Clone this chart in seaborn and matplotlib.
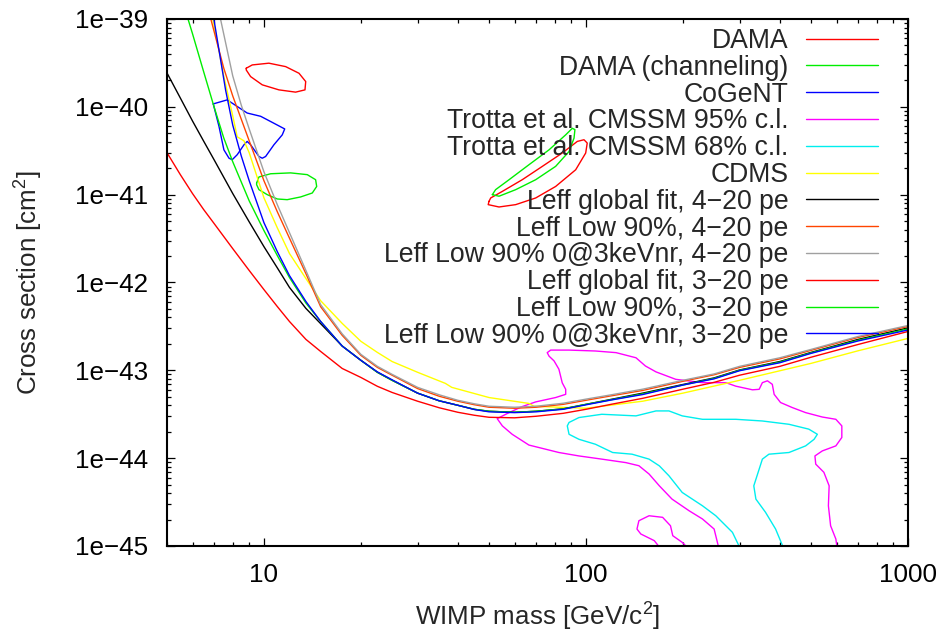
import matplotlib
matplotlib.use("Agg")
import matplotlib.pyplot as plt
import seaborn as sns
import numpy as np

# ---------------- data ----------------
# DAMA (two islands)
dama_lo_mass = [8.81, 9.20, 10.36, 11.68, 12.85, 13.48, 13.41, 12.54, 11.13, 9.88, 9.09, 8.81, 8.81]
dama_lo_sigma = [2.75e-40, 3.0e-40, 3.14e-40, 2.87e-40, 2.41e-40, 1.94e-40, 1.56e-40, 1.47e-40,
                 1.56e-40, 1.78e-40, 2.21e-40, 2.63e-40, 2.75e-40]
dama_hi_mass = [50.0, 49.7, 53.7, 60.5, 69.8, 80.5, 92.9, 99.8, 100.9, 98.6, 94.0, 84.4, 73.2,
                63.4, 55.0, 50.6, 50.0]
dama_hi_sigma = [8.4e-42, 7.7e-42, 7.24e-42, 7.7e-42, 9.17e-42, 1.24e-41, 1.92e-41, 2.98e-41,
                 3.87e-41, 4.22e-41, 4.04e-41, 2.98e-41, 2.1e-41, 1.48e-41, 1.09e-41, 9.17e-42, 8.4e-42]

# DAMA (channeling) (two islands)
chan_lo_mass = [9.49, 9.65, 10.49, 12.10, 13.63, 14.47, 14.58, 14.13, 13.0, 11.81, 11.0, 10.24,
                9.65, 9.49, 9.49]
chan_lo_sigma = [1.36e-41, 1.59e-41, 1.73e-41, 1.77e-41, 1.69e-41, 1.48e-41, 1.24e-41, 1.045e-41,
                 9.42e-42, 8.77e-42, 8.93e-42, 1.0e-41, 1.14e-41, 1.30e-41, 1.36e-41]
chan_hi_mass = [51.2, 52.4, 57.7, 66.5, 76.8, 86.5, 90.7, 92.4, 91.8, 88.6, 80.5, 69.8, 60.5,
                53.7, 51.2]
chan_hi_sigma = [1.0e-41, 1.14e-41, 1.48e-41, 2.19e-41, 3.24e-41, 4.8e-41, 5.7e-41, 5.5e-41,
                 4.4e-41, 3.1e-41, 2.1e-41, 1.48e-41, 1.14e-41, 9.6e-42, 1.0e-41]

# CoGeNT
cogent_mass = [6.96, 7.69, 8.87, 9.77, 10.74, 11.60, 11.40, 10.74, 10.12, 9.88, 9.65, 9.09, 8.87,
               8.67, 8.26, 7.97, 7.79, 7.51, 7.25, 6.96]
cogent_sigma = [1.08e-40, 1.20e-40, 8.5e-41, 7.8e-41, 6.5e-41, 5.6e-41, 4.8e-41, 3.7e-41, 2.72e-41,
                2.6e-41, 2.72e-41, 3.7e-41, 4.04e-41, 3.7e-41, 2.85e-41, 2.5e-41, 2.6e-41, 3.24e-41,
                6.0e-41, 1.08e-40]

# Trotta et al. CMSSM 95% c.l. (main region + small island)
t95_mass = [259, 250, 230, 209, 185, 169, 157, 146, 133, 112,
            95.1, 82.4, 66.5, 59.0, 55.0, 53.0, 57.7, 63.4, 69.8, 80.5,
            86.5, 86.5, 84.4, 82.4, 79.6, 76.8, 75.8, 77.7, 88.6, 107,
            124, 143, 153, 165, 190, 230, 272, 292, 329, 345,
            353, 366, 379, 384, 402, 437, 481, 542, 597, 623,
            623, 597, 542, 514, 517, 548, 569, 566, 575, 597,
            603]
t95_sigma = [9.2e-46, 1.56e-45, 2.03e-45, 2.52e-45, 3.42e-45, 4.84e-45, 6.6e-45, 8.2e-45, 8.9e-45, 9.75e-45,
             1.06e-44, 1.16e-44, 1.41e-44, 1.87e-44, 2.33e-44, 2.82e-44, 3.3e-44, 3.87e-44, 4.37e-44, 4.9e-44,
             5.33e-44, 6.08e-44, 7.2e-44, 1.03e-43, 1.28e-43, 1.45e-43, 1.59e-43, 1.70e-43, 1.70e-43, 1.66e-43,
             1.59e-43, 1.39e-43, 1.12e-43, 9.6e-44, 7.9e-44, 7.24e-44, 7.24e-44, 6.6e-44, 6.0e-44, 6.08e-44,
             7.24e-44, 7.6e-44, 6.93e-44, 5.33e-44, 4.3e-44, 3.77e-44, 3.3e-44, 2.94e-44, 2.77e-44, 2.33e-44,
             1.72e-44, 1.38e-44, 1.21e-44, 1.06e-44, 8.55e-45, 6.9e-45, 4.84e-45, 2.87e-45, 1.70e-45, 1.20e-45,
             9.2e-46]
t95b_mass = [171, 163, 148, 144, 146, 157, 173, 183, 186, 199, 209]
t95b_sigma = [9.2e-46, 1.15e-45, 1.37e-45, 1.56e-45, 1.94e-45, 2.21e-45, 2.12e-45, 1.70e-45,
              1.31e-45, 1.10e-45, 9.2e-46]

# Trotta et al. CMSSM 68% c.l.
t68_mass = [302, 285, 253, 230, 199, 181, 169, 157, 139, 121,
            107, 95.1, 88.6, 87.5, 88.6, 95.1, 112, 143, 165, 181,
            199, 230, 292, 353, 427, 492, 523, 511, 481, 427,
            370, 353, 345, 332, 337, 361, 388, 412]
t68_sigma = [9.2e-46, 1.43e-45, 2.21e-45, 2.87e-45, 4.07e-45, 6.3e-45, 8.17e-45, 9.75e-45, 1.11e-44, 1.16e-44,
             1.44e-44, 1.64e-44, 1.87e-44, 2.33e-44, 2.55e-44, 2.9e-44, 3.16e-44, 3.03e-44, 3.45e-44, 3.45e-44,
             3.03e-44, 2.77e-44, 2.77e-44, 2.65e-44, 2.43e-44, 2.14e-44, 1.87e-44, 1.64e-44, 1.38e-44, 1.16e-44,
             1.11e-44, 9.75e-45, 7.5e-45, 4.84e-45, 3.42e-45, 2.42e-45, 1.56e-45, 9.2e-46]

# CDMS
cdms_mass = [6.94, 7.5, 8.0, 8.26, 8.67, 9.0, 10, 11, 12, 13.5, 15, 17.5, 20, 22.5, 25, 30, 36.6,
             38.3, 50, 66.5, 68.9, 100, 150, 200, 300, 500, 700, 1000]
cdms_sigma = [1.0e-39, 2.25e-40, 7.9e-41, 4.56e-41, 4.1e-41, 3.0e-41, 9.2e-42, 4.2e-42, 2.14e-42,
              1.11e-42, 6.2e-43, 3.42e-43, 2.14e-43, 1.6e-43, 1.26e-43, 9.5e-44, 7.1e-44, 6.4e-44,
              4.9e-44, 4.2e-44, 3.9e-44, 3.7e-44, 4.45e-44, 5.5e-44, 7.7e-44, 1.2e-43, 1.67e-43, 2.31e-43]

# Leff global fit, 4-20 pe
gf4_mass = [5, 5.5, 6, 6.5, 7, 8, 9, 10, 11, 12, 13.5, 15, 17.5, 20, 22.5, 25, 30, 35, 40, 45, 50,
            60, 70, 85, 100, 120, 150, 200, 250, 300, 400, 500, 700, 1000]
gf4_sigma = [2.43e-40, 1.26e-40, 6.9e-41, 4.06e-41, 2.5e-41, 1.03e-41, 4.9e-42, 2.56e-42, 1.47e-42,
             8.8e-43, 5.07e-43, 3.4e-43, 1.89e-43, 1.30e-43, 9.5e-44, 7.7e-44, 5.5e-44, 4.5e-44,
             4.0e-44, 3.6e-44, 3.42e-44, 3.33e-44, 3.42e-44, 3.65e-44, 4.1e-44, 4.68e-44, 5.5e-44,
             6.9e-44, 8.2e-44, 1.01e-43, 1.26e-43, 1.60e-43, 2.25e-43, 3.04e-43]

# Leff Low 90%, 4-20 pe
low4_mass = [6.84, 7.5, 8, 9, 10, 11, 12, 13.5, 15, 17.5, 20, 22.5, 25, 30, 35, 40, 45, 50, 60, 70,
             85, 100, 120, 150, 200, 250, 300, 400, 500, 700, 1000]
low4_sigma = [1.0e-39, 2.77e-40, 1.33e-40, 4.1e-41, 1.44e-41, 6.4e-42, 3.2e-42, 1.26e-42, 5.3e-43,
              2.5e-43, 1.48e-43, 1.08e-43, 8.8e-44, 6.2e-44, 5.07e-44, 4.45e-44, 4.06e-44, 3.8e-44,
              3.7e-44, 3.8e-44, 4.1e-44, 4.56e-44, 5.13e-44, 5.9e-44, 7.5e-44, 8.9e-44, 1.08e-43,
              1.35e-43, 1.69e-43, 2.37e-43, 3.16e-43]

# Leff Low 90% 0@3keVnr, 4-20 pe
zero4_mass = [7.33, 8, 8.5, 9, 10, 11, 12, 13.5, 15, 17.5, 20, 22.5, 25, 30, 35, 40, 45, 50, 60, 70,
              85, 100, 120, 150, 200, 250, 300, 400, 500, 700, 1000]
zero4_sigma = [1.0e-39, 2.25e-40, 1.05e-40, 5.6e-41, 1.82e-41, 7.7e-42, 3.7e-42, 1.37e-42, 5.6e-43,
               2.6e-43, 1.52e-43, 1.11e-43, 9.0e-44, 6.4e-44, 5.27e-44, 4.56e-44, 4.16e-44, 3.9e-44,
               3.8e-44, 3.9e-44, 4.22e-44, 4.7e-44, 5.27e-44, 6.1e-44, 7.7e-44, 9.1e-44, 1.11e-43,
               1.39e-43, 1.73e-43, 2.43e-43, 3.24e-43]

# Leff global fit, 3-20 pe
gf3_mass = [5, 5.5, 6, 6.5, 7, 8, 9, 10, 11, 12, 13.5, 15, 17.5, 20, 22.5, 25, 30, 35, 40, 45, 50,
            60, 70, 85, 100, 120, 150, 200, 250, 300, 400, 500, 700, 1000]
gf3_sigma = [3.0e-41, 1.69e-41, 1.03e-41, 6.76e-42, 4.7e-42, 2.43e-42, 1.37e-42, 8.3e-43, 5.33e-43,
             3.6e-43, 2.25e-43, 1.64e-43, 1.05e-43, 8.3e-44, 6.58e-44, 5.6e-44, 4.45e-44, 3.75e-44,
             3.33e-44, 3.08e-44, 2.92e-44, 2.88e-44, 3.0e-44, 3.24e-44, 3.6e-44, 4.11e-44, 4.8e-44,
             6.1e-44, 7.3e-44, 8.8e-44, 1.11e-43, 1.41e-43, 1.97e-43, 2.77e-43]

# Leff Low 90%, 3-20 pe
low3_mass = [5.81, 6, 6.5, 7, 7.5, 8, 9, 10, 11, 12, 13.5, 15, 17.5, 20, 22.5, 25, 30, 35, 40, 45,
             50, 60, 70, 85, 100, 120, 150, 200, 250, 300, 400, 500, 700, 1000]
low3_sigma = [1.0e-39, 6.8e-40, 2.5e-40, 1.0e-40, 4.44e-41, 2.37e-41, 8.5e-42, 3.9e-42, 2.03e-42,
              1.14e-42, 5.83e-43, 3.6e-43, 1.89e-43, 1.30e-43, 9.5e-44, 7.7e-44, 5.5e-44, 4.5e-44,
              4.0e-44, 3.6e-44, 3.42e-44, 3.33e-44, 3.42e-44, 3.63e-44, 4.1e-44, 4.63e-44, 5.4e-44,
              6.8e-44, 8.1e-44, 1.0e-43, 1.24e-43, 1.58e-43, 2.2e-43, 2.96e-43]

# Leff Low 90% 0@3keVnr, 3-20 pe
zero3_mass = [6.99, 7.6, 8, 8.5, 9, 10, 11, 12, 13.5, 15, 17.5, 20, 22.5, 25, 30, 35, 40, 45, 50, 60,
              70, 85, 100, 120, 150, 200, 250, 300, 400, 500, 700, 1000]
zero3_sigma = [1.0e-39, 1.56e-40, 6.2e-41, 2.77e-41, 1.44e-41, 4.8e-42, 2.25e-42, 1.2e-42, 6.08e-43,
               3.6e-43, 1.89e-43, 1.30e-43, 9.6e-44, 7.8e-44, 5.5e-44, 4.5e-44, 4.0e-44, 3.58e-44,
               3.37e-44, 3.3e-44, 3.37e-44, 3.6e-44, 4.05e-44, 4.6e-44, 5.3e-44, 6.8e-44, 8.0e-44,
               9.9e-44, 1.22e-43, 1.56e-43, 2.16e-43, 2.88e-43]

x_ticks = [10, 100, 1000]
x_ticklabels = ["10", "100", "1000"]
y_ticks = [1e-45, 1e-44, 1e-43, 1e-42, 1e-41, 1e-40, 1e-39]
y_ticklabels = ["1e\u221245", "1e\u221244", "1e\u221243", "1e\u221242", "1e\u221241", "1e\u221240", "1e\u221239"]

# ---------------- style ----------------
sns.set_theme(style="ticks")
plt.rcParams['font.family'] = ['Liberation Sans', 'DejaVu Sans']
plt.rcParams['mathtext.fontset'] = 'custom'
plt.rcParams['mathtext.rm'] = 'Liberation Sans'
plt.rcParams['mathtext.it'] = 'Liberation Sans:italic'
plt.rcParams['axes.unicode_minus'] = True

FS = 18.7
LFS = 19.2
LW = 1.0

fig = plt.figure(figsize=(9.47, 6.32), dpi=100)
ax = fig.add_axes([0.17635, 0.13608, 0.78247, 0.83386])

def draw(m, s, color, label=None):
    sns.lineplot(x=m, y=s, sort=False, estimator=None, color=color, lw=LW,
                 ax=ax, label=label, legend=False)

draw(dama_lo_mass, dama_lo_sigma, "#ff0000", "DAMA")
draw(dama_hi_mass, dama_hi_sigma, "#ff0000")
draw(chan_lo_mass, chan_lo_sigma, "#00ee00", "DAMA (channeling)")
draw(chan_hi_mass, chan_hi_sigma, "#00ee00")
draw(cogent_mass, cogent_sigma, "#0000ff", "CoGeNT")
draw(t95_mass, t95_sigma, "#ff00ff", "Trotta et al. CMSSM 95% c.l.")
draw(t95b_mass, t95b_sigma, "#ff00ff")
draw(t68_mass, t68_sigma, "#00eeee", "Trotta et al. CMSSM 68% c.l.")
draw(cdms_mass, cdms_sigma, "#ffff00", "CDMS")
draw(gf4_mass, gf4_sigma, "#000000", "Leff global fit, 4\u221220 pe")
draw(low4_mass, low4_sigma, "#ff4500", "Leff Low 90%, 4\u221220 pe")
draw(zero4_mass, zero4_sigma, "#a0a0a0", "Leff Low 90% 0@3keVnr, 4\u221220 pe")
draw(gf3_mass, gf3_sigma, "#ff0000", "Leff global fit, 3\u221220 pe")
draw(low3_mass, low3_sigma, "#00ee00", "Leff Low 90%, 3\u221220 pe")
draw(zero3_mass, zero3_sigma, "#0000ff", "Leff Low 90% 0@3keVnr, 3\u221220 pe")

ax.set_xscale("log")
ax.set_yscale("log")
ax.set_xlim(5, 1000)
ax.set_ylim(1e-45, 1e-39)

ax.set_xticks(x_ticks)
ax.set_xticklabels(x_ticklabels)
ax.set_yticks(y_ticks)
ax.set_yticklabels(y_ticklabels)
ax.xaxis.set_minor_locator(matplotlib.ticker.LogLocator(base=10, subs=np.arange(2, 10)))
ax.yaxis.set_minor_locator(matplotlib.ticker.LogLocator(base=10, subs=np.arange(2, 10), numticks=20))
ax.xaxis.set_minor_formatter(matplotlib.ticker.NullFormatter())
ax.yaxis.set_minor_formatter(matplotlib.ticker.NullFormatter())

ax.tick_params(which="both", direction="in", top=True, right=True, colors="black",
               labelsize=FS, width=0.9)
ax.tick_params(which="major", length=6)
ax.tick_params(which="minor", length=3)
ax.tick_params(axis="x", which="major", pad=12)
ax.tick_params(axis="y", which="major", pad=13.5)
for sp in ax.spines.values():
    sp.set_linewidth(1.5)
    sp.set_color("black")

ax.set_xlabel("WIMP mass [GeV/c$^2$]", fontsize=FS, labelpad=10)
ax.set_ylabel("Cross section [cm$^2$]", fontsize=FS, labelpad=22)

ax.legend(loc="upper right", bbox_to_anchor=(0.9595, 0.983), markerfirst=False,
          frameon=False, fontsize=LFS, handlelength=2.7, handletextpad=0.66,
          labelspacing=0.03, borderpad=0, borderaxespad=0)

fig.savefig("out.png", dpi=100)
